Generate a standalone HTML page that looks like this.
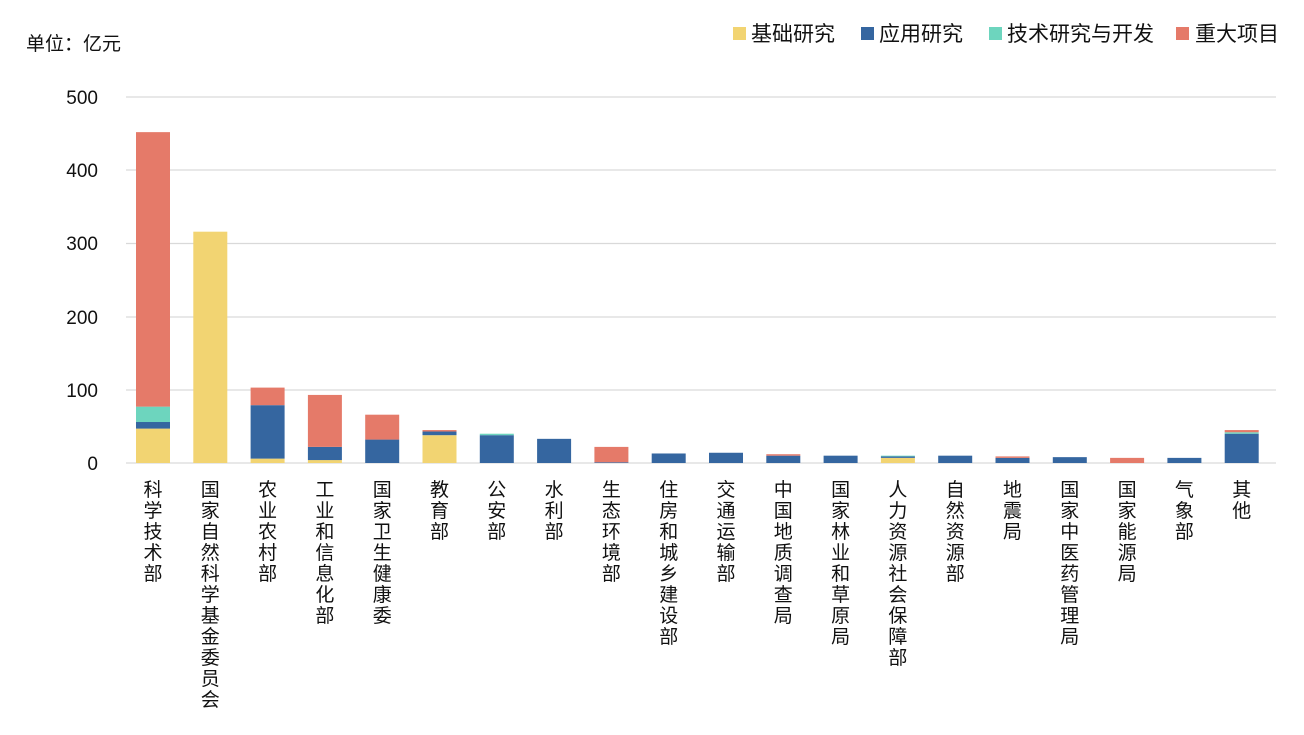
<!DOCTYPE html>
<html><head><meta charset="utf-8"><style>
body{margin:0;background:#fff;width:1304px;height:730px;overflow:hidden;font-family:"Liberation Sans","Noto Sans CJK SC",sans-serif;}
</style></head><body>
<svg width="1304" height="730" xmlns="http://www.w3.org/2000/svg" font-family="Liberation Sans, Noto Sans CJK SC, sans-serif">
<text x="26" y="50" font-size="19" fill="#111">单位：亿元</text>
<g font-size="21" fill="#111">
<rect x="733" y="27" width="13" height="13" fill="#F2D472"/><text x="751" y="41">基础研究</text>
<rect x="861" y="27" width="13" height="13" fill="#3566A0"/><text x="879" y="41">应用研究</text>
<rect x="989" y="27" width="13" height="13" fill="#6DD5BE"/><text x="1007" y="41">技术研究与开发</text>
<rect x="1176" y="27" width="13" height="13" fill="#E57A69"/><text x="1195" y="41">重大项目</text>
</g>
<g stroke="#d9d9d9" stroke-width="1.3">
<line x1="126" x2="1276" y1="97" y2="97"/><line x1="126" x2="1276" y1="170" y2="170"/><line x1="126" x2="1276" y1="243.5" y2="243.5"/><line x1="126" x2="1276" y1="317" y2="317"/><line x1="126" x2="1276" y1="390" y2="390"/><line x1="126" x2="1276" y1="463" y2="463"/>
</g>
<g font-size="19" fill="#111" text-anchor="end">
<text x="98" y="104">500</text><text x="98" y="177">400</text><text x="98" y="250">300</text><text x="98" y="324">200</text><text x="98" y="397">100</text><text x="98" y="470">0</text>
</g>
<g id="bars"></g>
<g id="labels" font-size="19" fill="#111" text-anchor="middle"></g>
</svg>
<script>
var d=[["科学技术部",47,9,21,375],["国家自然科学基金委员会",316,0,0,0],["农业农村部",6,73,0,24],["工业和信息化部",4,18,0,71],["国家卫生健康委",0,32,0,34],["教育部",38,5,0,2],["公安部",0,38,2,0],["水利部",0,33,0,0],["生态环境部",0,1,0,21],["住房和城乡建设部",0,13,0,0],["交通运输部",0,14,0,0],["中国地质调查局",0,10,0,2],["国家林业和草原局",0,10,0,0],["人力资源社会保障部",7,2,1,0],["自然资源部",0,10,0,0],["地震局",0,7,0,2],["国家中医药管理局",0,8,0,0],["国家能源局",0,0,0,7],["气象部",0,7,0,0],["其他",0,40,2,3]];
var c=["#F2D472","#3566A0","#6DD5BE","#E57A69"],k=0.732,b="",l="";
d.forEach(function(r,i){var cx=153+i*57.3,y=463;for(var j=1;j<5;j++){var h=r[j]*k;if(h>0){y-=h;b+='<rect x="'+(cx-17)+'" y="'+y+'" width="34" height="'+h+'" fill="'+c[j-1]+'"/>';}}
for(var m=0;m<r[0].length;m++)l+='<text x="'+cx+'" y="'+(496+m*21)+'">'+r[0][m]+'</text>';});
document.getElementById("bars").innerHTML=b;document.getElementById("labels").innerHTML=l;
</script>
</body></html>
